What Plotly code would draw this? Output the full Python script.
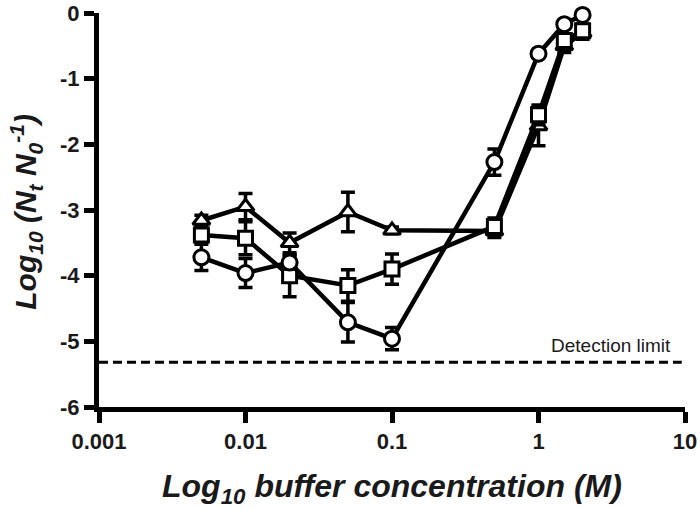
import plotly.graph_objects as go

conc = [0.005, 0.01, 0.02, 0.05, 0.1, 0.5, 1, 1.5, 2]

tri = [-3.16, -2.95, -3.5, -3.03, -3.31, -3.32, -1.72, -0.5, -0.3]
tri_err = [0.08, 0.2, 0.15, 0.3, 0.05, 0.1, 0.3, 0.1, 0.1]

sq = [-3.38, -3.43, -4.0, -4.15, -3.9, -3.25, -1.55, -0.42, -0.27]
sq_err = [0.1, 0.25, 0.32, 0.24, 0.23, 0.13, 0.15, 0.1, 0.1]

circ = [-3.72, -3.96, -3.8, -4.71, -4.96, -2.27, -0.62, -0.17, -0.03]
circ_err = [0.2, 0.22, 0.1, 0.3, 0.17, 0.2, 0.05, 0.05, 0.05]

detection_limit = -5.32
det_x = [0.001, 9.5]

x_ticks = [0.001, 0.01, 0.1, 1, 10]
x_ticktext = ["0.001", "0.01", "0.1", "1", "10"]
y_ticks = [0, -1, -2, -3, -4, -5, -6]

FONT = "Liberation Sans, Arial, sans-serif"
TXT = "#1a1a1a"

fig = go.Figure()

fig.add_trace(go.Scatter(
    x=det_x, y=[detection_limit, detection_limit], mode="lines",
    line=dict(color="black", width=3, dash="9px,5px"),
    showlegend=False, hoverinfo="skip"))

series = [
    (tri, tri_err, "triangle-up", 15),
    (sq, sq_err, "square", 14),
    (circ, circ_err, "circle", 15),
]
for vals, errs, sym, size in series:
    fig.add_trace(go.Scatter(
        x=conc, y=vals, mode="lines+markers",
        line=dict(color="black", width=4.5),
        marker=dict(symbol=sym, size=size, color="white",
                    line=dict(color="black", width=3)),
        error_y=dict(type="data", array=errs, visible=True,
                     color="black", thickness=3.5, width=7),
        showlegend=False, cliponaxis=False))

fig.add_annotation(x=0.918, y=-5.06, xref="x", yref="y",
                   text="Detection limit", showarrow=False,
                   xanchor="right", yanchor="middle",
                   font=dict(family=FONT, size=19, color=TXT))

fig.add_annotation(x=0.5, y=-0.207, xref="paper", yref="paper",
                   text="<b><i>Log<sub>10</sub> buffer concentration (M)</i></b>",
                   showarrow=False, xanchor="center", yanchor="middle",
                   font=dict(family=FONT, size=32, color=TXT))

fig.add_annotation(x=-0.125, y=0.495, xref="paper", yref="paper",
                   text="<b><i>Log<sub>10</sub> (N<sub>t</sub> N<sub>0</sub><sup>-1</sup>)</i></b>",
                   showarrow=False, xanchor="center", yanchor="middle",
                   textangle=-90,
                   font=dict(family=FONT, size=30, color=TXT))

fig.update_xaxes(
    type="log", range=[-3, 1], tickvals=x_ticks, ticktext=x_ticktext,
    showline=True, linecolor="black", linewidth=5,
    ticks="outside", ticklen=11, tickwidth=5, tickcolor="black",
    showgrid=False, zeroline=False, automargin=False,
    ticklabeloverflow="allow",
    tickfont=dict(family=FONT, size=22, color=TXT, weight="bold"))

fig.update_yaxes(
    range=[-6, 0], tickvals=y_ticks, ticktext=[str(v) for v in y_ticks],
    showline=True, linecolor="black", linewidth=5,
    ticks="outside", ticklen=10, tickwidth=5, tickcolor="black",
    showgrid=False, zeroline=False, automargin=False,
    ticklabeloverflow="allow",
    tickfont=dict(family=FONT, size=22, color=TXT, weight="bold"))

fig.update_layout(
    width=700, height=508,
    margin=dict(l=99, r=15, t=13, b=101),
    plot_bgcolor="white", paper_bgcolor="white",
    font=dict(family=FONT, color="black"))

fig.write_html(
    "out.html",
    config={"displayModeBar": False},
    post_script="document.body.style.margin='0';document.body.style.overflow='hidden';")
